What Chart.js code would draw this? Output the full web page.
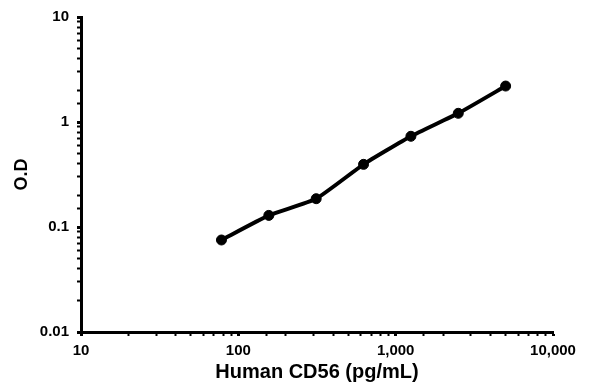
<!DOCTYPE html>
<html>
<head>
<meta charset="utf-8">
<script src="https://cdn.jsdelivr.net/npm/chart.js@4/dist/chart.umd.min.js"></script>
<style>
html,body{margin:0;padding:0;background:#fff;}
#wrap{width:600px;height:392px;}
</style>
</head>
<body>
<div id="wrap"><canvas id="c" width="600" height="392"></canvas></div>
<script>
const concentrations = [78.125, 156.25, 312.5, 625, 1250, 2500, 5000];
const odValues = [0.0752, 0.129, 0.186, 0.395, 0.731, 1.21, 2.20];
const xTickLabels = {10: '10', 100: '100', 1000: '1,000', 10000: '10,000'};
const yTickLabels = {0.01: '0.01', 0.1: '0.1', 1: '1', 10: '10'};
const xTitle = 'Human CD56 (pg/mL)';
const yTitle = 'O.D';

const points = concentrations.map((x, i) => ({x: x, y: odValues[i]}));
const font = 'Arial, "Liberation Sans", sans-serif';

function isMajor(v) {
  const l = Math.log10(v);
  return Math.abs(l - Math.round(l)) < 1e-9;
}

new Chart(document.getElementById('c'), {
  type: 'line',
  data: {
    datasets: [{
      data: points,
      borderColor: '#000',
      backgroundColor: '#000',
      borderWidth: 4,
      pointRadius: 5,
      pointBorderWidth: 1,
      pointHoverRadius: 5,
      pointBackgroundColor: '#000',
      pointBorderColor: '#000',
      tension: 0.15,
      fill: false
    }]
  },
  options: {
    responsive: false,
    animation: false,
    devicePixelRatio: 1,
    layout: {padding: {left: 11, right: 47, top: 16, bottom: 8}},
    plugins: {legend: {display: false}, tooltip: {enabled: false}},
    scales: {
      x: {
        type: 'logarithmic',
        min: 10,
        max: 10000,
        border: {display: true, color: '#000', width: 3},
        grid: {
          drawOnChartArea: false,
          drawTicks: true,
          tickLength: 4,
          tickColor: '#000',
          tickWidth: (ctx) => (ctx.tick && isMajor(ctx.tick.value)) ? 3 : 2
        },
        ticks: {
          color: '#000',
          font: {family: font, size: 15, weight: 'bold'},
          padding: 6,
          maxRotation: 0,
          autoSkip: false,
          callback: (v) => isMajor(v) ? (xTickLabels[Math.round(v)] || '') : ''
        },
        title: {
          display: true,
          text: xTitle,
          color: '#000',
          font: {family: font, size: 20, weight: 'bold'},
          padding: {top: 0, bottom: 0}
        },
        afterFit: (s) => { s.height = 52; }
      },
      y: {
        type: 'logarithmic',
        min: 0.01,
        max: 10,
        border: {display: true, color: '#000', width: 3},
        grid: {
          drawOnChartArea: false,
          drawTicks: true,
          tickLength: 4,
          tickColor: '#000',
          tickWidth: (ctx) => (ctx.tick && isMajor(ctx.tick.value)) ? 3 : 2
        },
        ticks: {
          color: '#000',
          font: {family: font, size: 15, weight: 'bold'},
          padding: 8,
          autoSkip: false,
          callback: (v) => {
            if (!isMajor(v)) return '';
            const k = Math.round(Math.log10(v));
            return yTickLabels[Math.pow(10, k)] || '';
          }
        },
        title: {
          display: true,
          text: yTitle,
          color: '#000',
          font: {family: font, size: 18, weight: 'bold'},
          padding: {top: 0, bottom: 0}
        },
        afterFit: (s) => { s.width = 70; }
      }
    }
  }
});
</script>
</body>
</html>
